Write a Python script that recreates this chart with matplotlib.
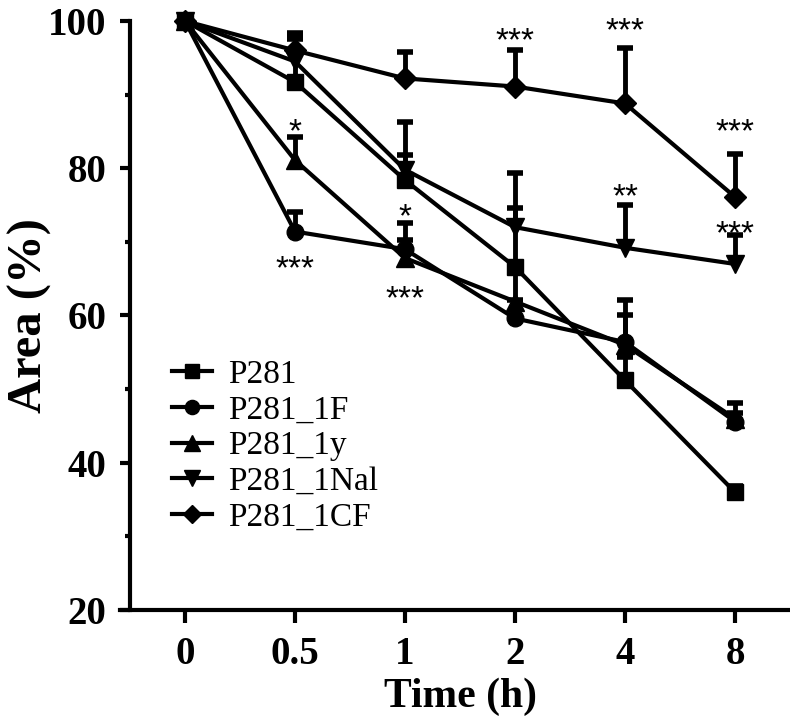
import matplotlib.pyplot as plt
import numpy as np
from matplotlib.ticker import MultipleLocator

plt.rcParams["font.family"] = ["Liberation Serif", "DejaVu Serif"]

times = ["0", "0.5", "1", "2", "4", "8"]
names = ["P281", "P281_1F", "P281_1y", "P281_1Nal", "P281_1CF"]
markers = ["s", "o", "^", "v", "D"]

# mean area (%) per time point
p281      = [100, 91.7, 78.4, 66.6, 51.2, 36.0]
p281_1f   = [100, 71.4, 69.0, 59.6, 56.4, 45.6]
p281_1y   = [100, 81.1, 67.8, 61.9, 56.0, 46.0]
p281_1nal = [100, 94.5, 79.8, 72.0, 69.2, 67.0]
p281_1cf  = [100, 96.0, 92.2, 91.1, 88.8, 76.1]

# upper error bars
p281_err      = [0, 5.9, 7.9, 12.7, 3.2, 0.8]
p281_1f_err   = [0, 2.7, 3.5, 2.5, 5.7, 2.5]
p281_1y_err   = [0, 3.2, 2.4, 4.3, 4.1, 0.7]
p281_1nal_err = [0, 3.6, 2.0, 2.6, 5.8, 3.9]
p281_1cf_err  = [0, 2.4, 3.6, 5.0, 7.5, 5.9]

# significance marks
sig_x = [1, 1, 2, 2, 2, 3, 4, 4, 5, 5]
sig_y = [86.1, 67.5, 100.1, 74.6, 63.4, 98.5, 99.9, 77.3, 86.1, 72.3]
sig_txt = ["*", "***", "*", "*", "***", "***", "***", "**", "***", "***"]

series = [p281, p281_1f, p281_1y, p281_1nal, p281_1cf]
errs = [p281_err, p281_1f_err, p281_1y_err, p281_1nal_err, p281_1cf_err]

fig = plt.figure(figsize=(7.9, 7.23), dpi=100)
ax = fig.add_axes([130/790, 1-610/723, 660/790, 589/723])

x = np.arange(len(times))
for vals, err, m, name in zip(series, errs, markers, names):
    vals = np.array(vals)
    err = np.array(err)
    has = err > 0
    # upper-only error bars
    ax.vlines(x[has], vals[has], vals[has] + err[has], color="black",
              lw=3.5, zorder=2)
    ax.plot(x[has], vals[has] + err[has], ls="none", marker="_", ms=12,
            mew=4, color="black", zorder=2)
    ms = 12 if m in ("s", "o") else (13 if m in ("^", "v") else 11)
    ax.plot(x, vals, color="black", lw=3, marker=m, ms=ms,
            label=name, zorder=3, clip_on=False)

for sx, sy, st in zip(sig_x, sig_y, sig_txt):
    ax.annotate(st, (sx, sy), xytext=(0, -13), textcoords="offset points",
                ha="center", va="baseline", fontsize=24,
                family="Liberation Sans", color="black")

ax.set_xlim(-0.5, 5.5)
ax.set_ylim(20, 100)
ax.set_xticks(x)
ax.set_xticklabels(times)
ax.set_yticks([20, 40, 60, 80, 100])
ax.yaxis.set_minor_locator(MultipleLocator(10))

for s in ["top", "right"]:
    ax.spines[s].set_visible(False)
for s in ["left", "bottom"]:
    ax.spines[s].set_linewidth(3)
ax.spines["bottom"].set_bounds(-0.59, 5.5)

ax.tick_params(axis="x", direction="out", length=9, width=3, pad=10)
ax.tick_params(axis="y", which="major", direction="out", length=7, width=3, pad=10)
ax.tick_params(axis="y", which="minor", direction="out", length=3.5, width=3)
for lab in ax.get_xticklabels() + ax.get_yticklabels():
    lab.set_fontsize(28)
    lab.set_fontweight("bold")

ax.set_xlabel("Time (h)", fontsize=30, fontweight="bold", va="center")
ax.xaxis.set_label_coords(0.5, (610 - 697) / 589)
ax.set_ylabel("Area (%)", fontsize=35, fontweight="bold", va="center")
ax.yaxis.set_label_coords((30 - 130) / 660, 0.5)

ax.legend(loc="center left", bbox_to_anchor=(155/790, 1-446/723),
          bbox_transform=fig.transFigure, frameon=False, fontsize=24,
          handlelength=1.2, handletextpad=0.5, labelspacing=0.16,
          borderpad=0, markerscale=0.85)

fig.savefig("out.png", dpi=100)
